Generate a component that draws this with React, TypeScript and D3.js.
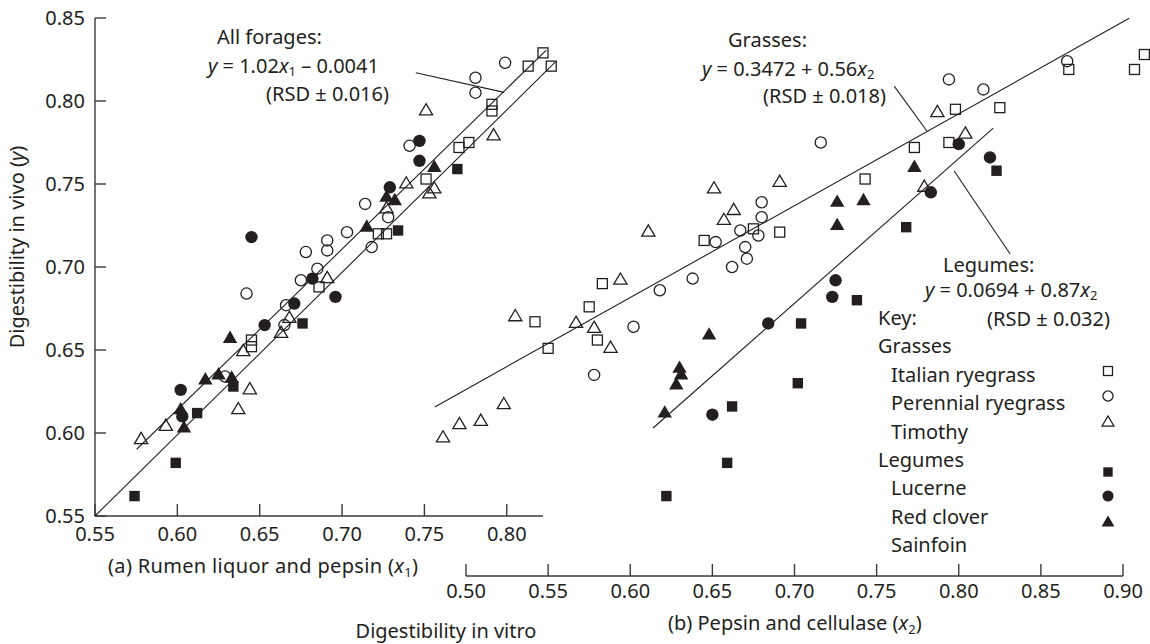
import React from "react";
import * as d3 from "d3";

// ---------- Data ----------
type P = [number, number];

// Panel (a): rumen liquor and pepsin (x1) vs in vivo (y)
const aItalian: P[] = [[0.645,0.656],[0.645,0.652],[0.686,0.688],[0.722,0.720],[0.727,0.720],[0.751,0.753],[0.771,0.772],[0.777,0.775],[0.791,0.798],[0.791,0.794],[0.813,0.821],[0.822,0.829],[0.827,0.821]];
const aPerennial: P[] = [[0.629,0.634],[0.666,0.677],[0.665,0.665],[0.642,0.684],[0.675,0.692],[0.685,0.699],[0.678,0.709],[0.691,0.716],[0.691,0.710],[0.703,0.721],[0.714,0.738],[0.718,0.712],[0.728,0.730],[0.741,0.773],[0.781,0.814],[0.781,0.805],[0.799,0.823]];
const aTimothy: P[] = [[0.578,0.597],[0.593,0.605],[0.644,0.627],[0.637,0.615],[0.640,0.650],[0.663,0.661],[0.668,0.670],[0.691,0.694],[0.727,0.736],[0.739,0.751],[0.751,0.795],[0.753,0.745],[0.756,0.748],[0.792,0.780]];
const aLucerne: P[] = [[0.574,0.562],[0.599,0.582],[0.612,0.612],[0.634,0.628],[0.676,0.666],[0.734,0.722],[0.770,0.759]];
const aRedClover: P[] = [[0.603,0.610],[0.602,0.626],[0.653,0.665],[0.671,0.678],[0.645,0.718],[0.682,0.693],[0.696,0.682],[0.729,0.748],[0.747,0.764],[0.747,0.776]];
const aSainfoin: P[] = [[0.604,0.604],[0.602,0.615],[0.617,0.633],[0.625,0.636],[0.633,0.634],[0.632,0.658],[0.715,0.725],[0.727,0.743],[0.732,0.741],[0.756,0.761]];

// Panel (b): pepsin and cellulase (x2) vs in vivo (y)
const bItalian: P[] = [[0.542,0.667],[0.550,0.651],[0.575,0.676],[0.583,0.690],[0.580,0.656],[0.645,0.716],[0.675,0.723],[0.691,0.721],[0.743,0.753],[0.773,0.772],[0.798,0.795],[0.794,0.775],[0.825,0.796],[0.867,0.819],[0.907,0.819],[0.913,0.828]];
const bPerennial: P[] = [[0.578,0.635],[0.602,0.664],[0.618,0.686],[0.638,0.693],[0.652,0.715],[0.662,0.700],[0.671,0.705],[0.670,0.712],[0.667,0.722],[0.678,0.719],[0.680,0.730],[0.680,0.739],[0.716,0.775],[0.794,0.813],[0.815,0.807],[0.866,0.824]];
const bTimothy: P[] = [[0.486,0.598],[0.496,0.606],[0.509,0.608],[0.523,0.618],[0.530,0.671],[0.567,0.667],[0.578,0.664],[0.594,0.693],[0.588,0.652],[0.611,0.722],[0.651,0.748],[0.663,0.735],[0.657,0.729],[0.691,0.752],[0.779,0.749],[0.787,0.794],[0.804,0.781]];
const bLucerne: P[] = [[0.622,0.562],[0.659,0.582],[0.662,0.616],[0.702,0.630],[0.704,0.666],[0.738,0.680],[0.768,0.724],[0.823,0.758]];
const bRedClover: P[] = [[0.650,0.611],[0.684,0.666],[0.723,0.682],[0.725,0.692],[0.783,0.745],[0.800,0.774],[0.819,0.766]];
const bSainfoin: P[] = [[0.621,0.613],[0.628,0.630],[0.631,0.636],[0.630,0.640],[0.648,0.660],[0.726,0.726],[0.726,0.740],[0.742,0.741],[0.773,0.761]];

// Fitted / reference lines (endpoints in data units)
const aLineUpper: P[] = [[0.5753,0.5902],[0.824,0.8307]];
const aLineLower: P[] = [[0.55,0.55],[0.8297,0.8237]];
const bGrassLine: P[] = [[0.481,0.6157],[0.9038,0.8498]];
const bLegumeLine: P[] = [[0.6139,0.603],[0.821,0.7837]];

// Leader lines for annotations (data units)
const aLeader: P[] = [[0.7448,0.8170],[0.7984,0.8052]];
const bGrassLeader: P[] = [[0.7607,0.809],[0.7806,0.7819]];
const bLegumeLeader: P[] = [[0.7972,0.7578],[0.8313,0.7078]];

const yTicks = [0.55,0.60,0.65,0.70,0.75,0.80,0.85];
const xaTicks = [0.55,0.60,0.65,0.70,0.75,0.80];
const xbTicks = [0.50,0.55,0.60,0.65,0.70,0.75,0.80,0.85,0.90];

type Kind = "oSq" | "oCi" | "oTr" | "fSq" | "fCi" | "fTr";

const legendItems: { label: string; kind: Kind }[] = [
  { label: "Italian ryegrass", kind: "oSq" },
  { label: "Perennial ryegrass", kind: "oCi" },
  { label: "Timothy", kind: "oTr" },
  { label: "Lucerne", kind: "fSq" },
  { label: "Red clover", kind: "fCi" },
  { label: "Sainfoin", kind: "fTr" },
];

// ---------- Drawing ----------
const INK = "#231f20";
const AX = "#3a3a3a";
const FONT = "'Noto Sans', 'Open Sans', sans-serif";

const y = d3.scaleLinear().domain([0.55, 0.85]).range([516, 18]);
const xa = d3.scaleLinear().domain([0.55, 0.822]).range([95, 543]);
const xb = d3.scaleLinear().domain([0.50, 0.90]).range([466, 1123]);

function Marker({ kind, cx, cy, s = 1 }: { kind: Kind; cx: number; cy: number; s?: number }) {
  const sw = 1.3;
  switch (kind) {
    case "oSq": {
      const h = 5 * s;
      return <rect x={cx - h} y={cy - h} width={2 * h} height={2 * h} fill="none" stroke={INK} strokeWidth={sw} />;
    }
    case "oCi":
      return <circle cx={cx} cy={cy} r={5.6 * s} fill="none" stroke={INK} strokeWidth={sw} />;
    case "oTr": {
      const w = 6.6 * s, h = 5.6 * s;
      return <path d={`M${cx},${cy - h}L${cx + w},${cy + h}L${cx - w},${cy + h}Z`} fill="none" stroke={INK} strokeWidth={sw} strokeLinejoin="miter" />;
    }
    case "fSq": {
      const h = 5.2 * s;
      return <rect x={cx - h} y={cy - h} width={2 * h} height={2 * h} fill={INK} />;
    }
    case "fCi":
      return <circle cx={cx} cy={cy} r={6.2 * s} fill={INK} />;
    case "fTr": {
      const w = 7.2 * s, h = 6.2 * s;
      return <path d={`M${cx},${cy - h}L${cx + w},${cy + h}L${cx - w},${cy + h}Z`} fill={INK} />;
    }
  }
}

function Series({ data, kind, xs }: { data: P[]; kind: Kind; xs: d3.ScaleLinear<number, number> }) {
  return (
    <g>
      {data.map((d, i) => (
        <Marker key={i} kind={kind} cx={xs(d[0])} cy={y(d[1])} />
      ))}
    </g>
  );
}

function Seg({ pts, xs, w = 1.1 }: { pts: P[]; xs: d3.ScaleLinear<number, number>; w?: number }) {
  const line = d3.line<P>().x((d) => xs(d[0])).y((d) => y(d[1]));
  return <path d={line(pts) || ""} fill="none" stroke={INK} strokeWidth={w} />;
}

export default function App() {
  const fs = 20;
  const sub = 13;
  const legX = 878;
  const legStep = 28.4;
  const legTop = 325;
  const symX = 1108;
  const symY = [371, 396, 421, 472, 496, 521];
  return (
    <svg width={1150} height={644} style={{ position: "absolute", left: 0, top: 0, background: "#fff" }} fontFamily={FONT}>
      <rect width={1150} height={644} fill="#fff" />
      {/* Y axis */}
      <line x1={95} x2={95} y1={y(0.85)} y2={y(0.55)} stroke={AX} strokeWidth={1.4} />
      {yTicks.map((t) => (
        <g key={t}>
          <line x1={95} x2={106} y1={y(t)} y2={y(t)} stroke={AX} strokeWidth={1.4} />
          <text x={85} y={y(t)} dy="0.35em" textAnchor="end" fontSize={fs} fill={INK}>{t.toFixed(2)}</text>
        </g>
      ))}
      {/* X axis (a) */}
      <line x1={xa(0.55)} x2={xa(0.822)} y1={516} y2={516} stroke={AX} strokeWidth={1.4} />
      {xaTicks.map((t) => (
        <g key={t}>
          <line x1={xa(t)} x2={xa(t)} y1={516} y2={504} stroke={AX} strokeWidth={1.4} />
          <text x={xa(t)} y={541} textAnchor="middle" fontSize={fs} fill={INK}>{t.toFixed(2)}</text>
        </g>
      ))}
      <text x={108} y={573} fontSize={fs} fill={INK} textLength={310}>
        (a) Rumen liquor and pepsin (<tspan fontStyle="italic">x</tspan><tspan fontSize={sub} dy={4}>1</tspan><tspan dy={-4}>)</tspan>
      </text>
      {/* X axis (b) */}
      <line x1={xb(0.5)} x2={xb(0.9)} y1={576} y2={576} stroke={AX} strokeWidth={1.4} />
      {xbTicks.map((t) => (
        <g key={t}>
          <line x1={xb(t)} x2={xb(t)} y1={576} y2={564} stroke={AX} strokeWidth={1.4} />
          <text x={xb(t)} y={598} textAnchor="middle" fontSize={fs} fill={INK}>{t.toFixed(2)}</text>
        </g>
      ))}
      <text x={668} y={630} fontSize={fs} fill={INK}>
        (b) Pepsin and cellulase (<tspan fontStyle="italic">x</tspan><tspan fontSize={sub} dy={4}>2</tspan><tspan dy={-4}>)</tspan>
      </text>
      <text x={446} y={638} textAnchor="middle" fontSize={fs} fill={INK}>Digestibility in vitro</text>
      <text transform="translate(24,247) rotate(-90)" textAnchor="middle" fontSize={fs} fill={INK}>
        Digestibility in vivo (<tspan fontStyle="italic">y</tspan>)
      </text>

      {/* Lines */}
      <Seg pts={aLineUpper} xs={xa} />
      <Seg pts={aLineLower} xs={xa} />
      <Seg pts={bGrassLine} xs={xb} />
      <Seg pts={bLegumeLine} xs={xb} />
      <Seg pts={aLeader} xs={xa} />
      <Seg pts={bGrassLeader} xs={xb} />
      <Seg pts={bLegumeLeader} xs={xb} />

      {/* Points panel a */}
      <Series data={aItalian} kind="oSq" xs={xa} />
      <Series data={aPerennial} kind="oCi" xs={xa} />
      <Series data={aTimothy} kind="oTr" xs={xa} />
      <Series data={aLucerne} kind="fSq" xs={xa} />
      <Series data={aRedClover} kind="fCi" xs={xa} />
      <Series data={aSainfoin} kind="fTr" xs={xa} />
      {/* Points panel b */}
      <Series data={bItalian} kind="oSq" xs={xb} />
      <Series data={bPerennial} kind="oCi" xs={xb} />
      <Series data={bTimothy} kind="oTr" xs={xb} />
      <Series data={bLucerne} kind="fSq" xs={xb} />
      <Series data={bRedClover} kind="fCi" xs={xb} />
      <Series data={bSainfoin} kind="fTr" xs={xb} />

      {/* Annotations */}
      <g fontSize={fs} fill={INK}>
        <text x={217} y={44}>All forages:</text>
        <text x={208} y={73}>
          <tspan fontStyle="italic">y</tspan> = 1.02<tspan fontStyle="italic">x</tspan><tspan fontSize={sub} dy={3}>1</tspan><tspan dy={-3}> – 0.0041</tspan>
        </text>
        <text x={389} y={101} textAnchor="end">(RSD ± 0.016)</text>

        <text x={728} y={47}>Grasses:</text>
        <text x={702} y={76}>
          <tspan fontStyle="italic">y</tspan> = 0.3472 + 0.56<tspan fontStyle="italic">x</tspan><tspan fontSize={sub} dy={3}>2</tspan>
        </text>
        <text x={886} y={103} textAnchor="end">(RSD ± 0.018)</text>

        <text x={943} y={272}>Legumes:</text>
        <text x={925} y={297}>
          <tspan fontStyle="italic">y</tspan> = 0.0694 + 0.87<tspan fontStyle="italic">x</tspan><tspan fontSize={sub} dy={3}>2</tspan>
        </text>
        <text x={1110} y={326} textAnchor="end">(RSD ± 0.032)</text>

        {/* Key */}
        <text x={legX} y={legTop}>Key:</text>
        <text x={legX} y={legTop + legStep}>Grasses</text>
        {legendItems.slice(0, 3).map((it, i) => (
          <text key={it.label} x={legX + 13} y={legTop + legStep * (2 + i)}>{it.label}</text>
        ))}
        <text x={legX} y={legTop + legStep * 5}>Legumes</text>
        {legendItems.slice(3).map((it, i) => (
          <text key={it.label} x={legX + 13} y={legTop + legStep * (6 + i)}>{it.label}</text>
        ))}
      </g>
      {legendItems.map((it, i) => (
        <Marker key={it.label} kind={it.kind} cx={symX} cy={symY[i]} s={0.9} />
      ))}
    </svg>
  );
}
